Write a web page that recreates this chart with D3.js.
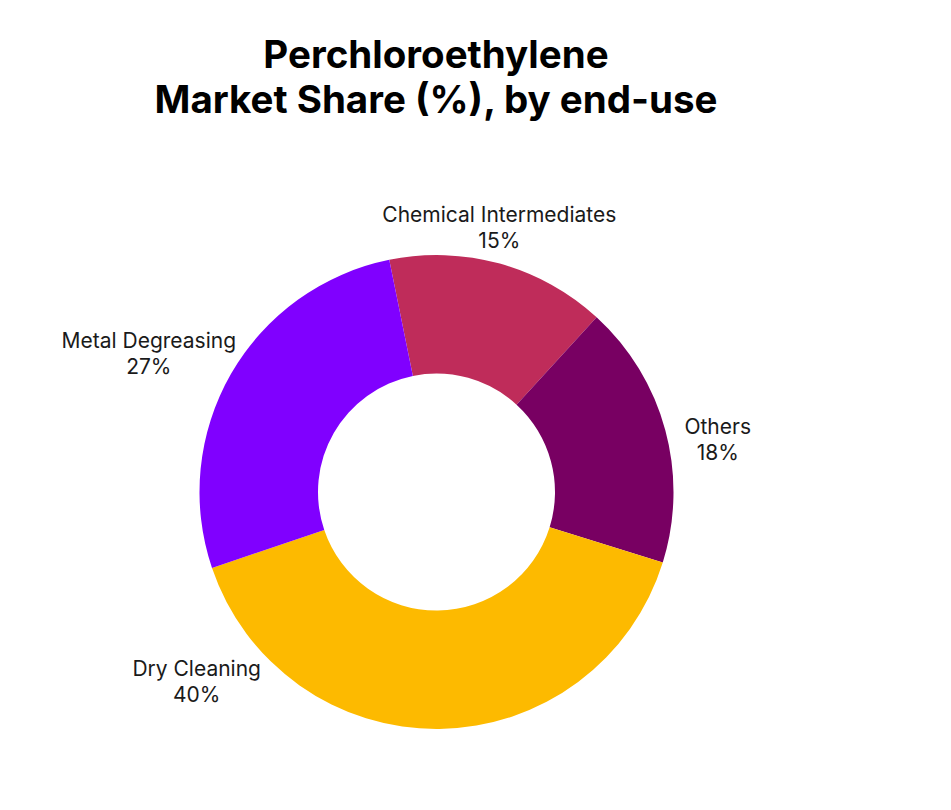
<!DOCTYPE html>
<html><head><meta charset="utf-8">
<script src="https://cdn.jsdelivr.net/npm/d3@7"></script>
<style>html,body{margin:0;padding:0;background:#fff;}svg{display:block;}</style>
</head><body>
<svg id="chart" width="951" height="810"></svg>
<script>
const categories = ["Chemical Intermediates", "Others", "Dry Cleaning", "Metal Degreasing"];
const shares = [15, 18, 40, 27];
const colors = ["#BF2C5A", "#780062", "#FDBA00", "#8000FF"];
const titleLines = ["Perchloroethylene", "Market Share (%), by end-use"];
// label placement (angle in degrees clockwise from top, distance from centre)
const labelAngles = [13.4, 79.5, 231.6, 295.6];
const labelRadii = [271, 286, 306, 319];

const W = 951, H = 810;
const cx = 436.5, cy = 492, outerR = 237, innerR = 118.5;
const startDeg = -11.5;

const svg = d3.select("#chart");
svg.append("rect").attr("width", W).attr("height", H).attr("fill", "#fff");

svg.append("g").selectAll("text").data(titleLines).join("text")
  .attr("x", 436).attr("y", (d, i) => 68 + i * 45)
  .attr("text-anchor", "middle")
  .attr("font-family", "Inter, sans-serif").attr("font-weight", 700)
  .attr("font-size", 38.5).attr("fill", "#000")
  .text(d => d);

const data = categories.map((c, i) => ({name: c, value: shares[i], color: colors[i]}));
const rad = Math.PI / 180;
const pie = d3.pie().value(d => d.value).sort(null)
  .startAngle(startDeg * rad).endAngle((startDeg + 360) * rad);
const arc = d3.arc().innerRadius(innerR).outerRadius(outerR);

const g = svg.append("g").attr("transform", `translate(${cx},${cy})`);
g.selectAll("path").data(pie(data)).join("path")
  .attr("d", arc).attr("fill", d => d.data.color);

const lg = g.selectAll("g.lbl").data(data).join("g").attr("class", "lbl")
  .attr("transform", (d, i) => {
    const a = labelAngles[i] * rad, r = labelRadii[i];
    return `translate(${r * Math.sin(a)},${-r * Math.cos(a)})`;
  });
lg.append("text").attr("text-anchor", "middle")
  .attr("font-family", "Inter, sans-serif").attr("font-size", 21).attr("fill", "#1a1a1a")
  .selectAll("tspan").data(d => [d.name, d.value + "%"]).join("tspan")
  .attr("x", 0).attr("y", (d, i) => -6 + i * 26)
  .text(d => d);
</script>
</body></html>
